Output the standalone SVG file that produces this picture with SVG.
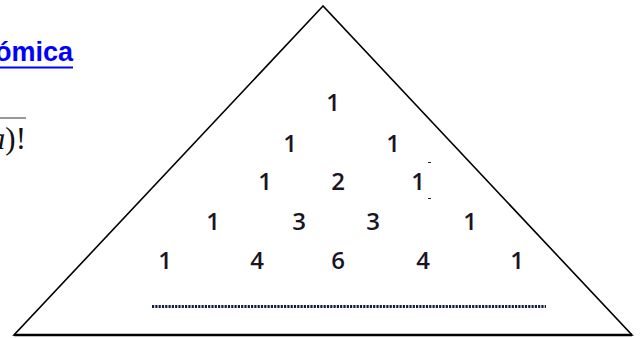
<svg xmlns="http://www.w3.org/2000/svg" width="640" height="338" viewBox="0 0 640 338">
<style>
.num{font-family:"Open Sans","Liberation Sans",sans-serif;font-size:24px;font-weight:600;fill:#1a1424;text-anchor:middle}
.tick{stroke:#222;stroke-width:1}
</style>
<rect width="640" height="338" fill="#ffffff"/>
<g id="title">
<text x="73" y="61" font-family="'Liberation Sans',Arial,sans-serif" font-weight="bold" font-size="27" fill="#0000ff" text-anchor="end">ómica</text>
<line x1="0" y1="67.5" x2="73" y2="67.5" stroke="#0000ff" stroke-width="2"/>
</g>
<g id="formula">
<line x1="0" y1="118" x2="26" y2="118" stroke="#333" stroke-width="1"/>
<text x="26" y="149" font-family="'Liberation Serif','Times New Roman',serif" font-size="31" fill="#111" text-anchor="end"><tspan font-style="italic">a</tspan>)!</text>
</g>
<g id="triangle">
<path d="M323,6 L14,335 L632,335 Z" fill="none" stroke="#000" stroke-width="1.6" stroke-linejoin="miter"/>
<line x1="14" y1="335" x2="632" y2="335" stroke="#000" stroke-width="2.4"/>
</g>
<g id="numbers">
<text class="num" x="333" y="111">1</text>
<text class="num" x="290" y="152">1</text>
<text class="num" x="393" y="152">1</text>
<text class="num" x="265" y="190">1</text>
<text class="num" x="338" y="190">2</text>
<text class="num" x="418" y="190">1</text>
<text class="num" x="213" y="230">1</text>
<text class="num" x="299" y="230">3</text>
<text class="num" x="373" y="230">3</text>
<text class="num" x="470" y="230">1</text>
<text class="num" x="165" y="269">1</text>
<text class="num" x="257" y="269">4</text>
<text class="num" x="338" y="269">6</text>
<text class="num" x="423" y="269">4</text>
<text class="num" x="517" y="269">1</text>
<line class="tick" x1="428" y1="162.5" x2="431" y2="162.5"/>
<line class="tick" x1="428" y1="198.5" x2="431" y2="198.5"/>
</g>
<g id="dotted">
<line x1="152" y1="306.5" x2="546" y2="306.5" stroke="#141c3c" stroke-width="2.8" stroke-dasharray="2.2 1.1"/>
</g>
</svg>
